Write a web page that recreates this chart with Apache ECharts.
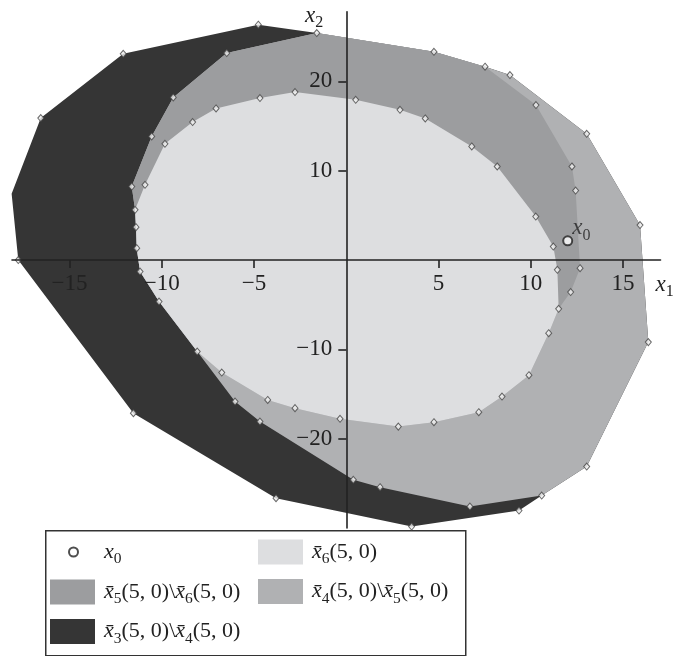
<!DOCTYPE html>
<html><head><meta charset="utf-8">
<script src="https://cdn.jsdelivr.net/npm/echarts@6/dist/echarts.min.js"></script>
<style>html,body{margin:0;padding:0;background:#fff}#c{width:674px;height:656px}</style>
</head><body><div id="c"></div>
<script>
// ---- data ----
const xTickValues = [-15, -10, -5, 5, 10, 15];
const yTickValues = [-20, -10, 10, 20];
const x0Point = [[12.0, 2.15]];
// x̄3(5,0) outer boundary
const region3 = [[-4.77,26.34],[-1.60,25.41],[4.75,23.31],[7.52,21.64],[8.87,20.71],[13.03,14.13],[15.92,3.91],[16.37,-9.19],[13.03,-23.12],[10.59,-26.37],[9.36,-28.05],[3.54,-29.84],[-3.81,-26.66],[-11.54,-17.14],[-17.78,0],[-18.14,7.41],[-16.56,15.89],[-12.09,23.09]];
// x̄4(5,0)
const region4 = [[-1.60,25.41],[4.75,23.31],[7.52,21.64],[8.87,20.71],[13.03,14.13],[15.92,3.91],[16.37,-9.19],[13.03,-23.12],[10.59,-26.37],[6.70,-27.60],[1.83,-25.43],[0.38,-24.61],[-4.68,-18.09],[-6.03,-15.85],[-8.08,-10.25],[-10.15,-4.65],[-11.18,-1.29],[-11.36,1.33],[-11.40,3.68],[-11.45,5.62],[-11.63,8.23],[-10.55,13.83],[-9.38,18.20],[-6.48,23.17]];
// x̄5(5,0)
const region5 = [[-1.60,25.41],[4.75,23.31],[7.52,21.64],[10.28,17.35],[12.23,10.47],[12.43,7.78],[12.67,-0.91],[12.16,-3.59],[11.51,-5.46],[10.97,-8.19],[9.90,-12.89],[8.44,-15.29],[7.18,-17.03],[4.75,-18.15],[2.82,-18.65],[-0.34,-17.78],[-2.78,-16.58],[-4.26,-15.66],[-6.75,-12.60],[-8.08,-10.25],[-10.15,-4.65],[-11.18,-1.29],[-11.36,1.33],[-11.40,3.68],[-11.45,5.62],[-11.63,8.23],[-10.55,13.83],[-9.38,18.20],[-6.48,23.17]];
// x̄6(5,0)
const region6 = [[0.51,17.94],[2.91,16.82],[4.28,15.85],[6.80,12.71],[8.18,10.47],[10.27,4.87],[11.22,1.51],[11.44,-1.10],[11.51,-5.46],[10.97,-8.19],[9.90,-12.89],[8.44,-15.29],[7.18,-17.03],[4.75,-18.15],[2.82,-18.65],[-0.34,-17.78],[-2.78,-16.58],[-4.26,-15.66],[-6.75,-12.60],[-8.08,-10.25],[-10.15,-4.65],[-11.18,-1.29],[-11.36,1.33],[-11.40,3.68],[-11.45,5.62],[-10.91,8.42],[-9.83,13.01],[-8.33,15.44],[-7.06,16.97],[-4.68,18.13],[-2.78,18.80]];
const xRange = [-18.12, 17.03];
const yRange = [-30, 27.8];

// ---- style / layout ----
const SERIF = '"Liberation Serif", "Times New Roman", serif';
const INK = '#222';
const GRID = {left: 12, top: 11.7, width: 648.5, height: 516.3};
function makeRich(fs, ss) {
  return {
    g: {width: 4},
    g0: {width: 21},
    i: {fontFamily: SERIF, fontStyle: 'italic', fontSize: fs, lineHeight: 30, color: INK},
    n: {fontFamily: SERIF, fontSize: fs, lineHeight: 30, color: INK},
    s: {fontFamily: SERIF, fontSize: ss, lineHeight: 16, padding: [14, 0, 0, 0], color: INK}
  };
}
const rich = makeRich(23, 16);
const legendRich = makeRich(22, 15.5);
const labelText = {
  x0: '{g0|}{i|x}{s|0}',
  x6: '{g|}{i|x\u0304}{s|6}{n|(5, 0)}',
  x56: '{g|}{i|x\u0304}{s|5}{n|(5, 0)\\}{i|x\u0304}{s|6}{n|(5, 0)}',
  x45: '{g|}{i|x\u0304}{s|4}{n|(5, 0)\\}{i|x\u0304}{s|5}{n|(5, 0)}',
  x34: '{g|}{i|x\u0304}{s|3}{n|(5, 0)\\}{i|x\u0304}{s|4}{n|(5, 0)}'
};

// vertices (union of polygon corners)
const seen = new Set();
const vertices = [];
[region3, region4, region5, region6].forEach(r => r.forEach(p => {
  const k = p[0] + ',' + p[1];
  if (!seen.has(k)) { seen.add(k); vertices.push(p); }
}));

function polySeries(name, pts, color) {
  return {
    type: 'custom', name: name, data: pts, encode: {x: 0, y: 1},
    itemStyle: {color: color}, silent: true, z: 2,
    renderItem: function (params, api) {
      if (params.dataIndex !== 0) return;
      return {
        type: 'polygon',
        shape: {points: pts.map(p => api.coord(p))},
        style: {fill: api.visual('color'), stroke: null}
      };
    }
  };
}
const fmtNum = v => v < 0 ? '\u2212' + Math.abs(v) : String(v);
// axes cross at the origin: shift each axis from the grid edge to the zero of the other axis
const xAxisOffset = -GRID.height * (0 - yRange[0]) / (yRange[1] - yRange[0]);
const yAxisOffset = -GRID.width * (0 - xRange[0]) / (xRange[1] - xRange[0]);
const axisLineStyle = {color: '#222', width: 1.6};

const chart = echarts.init(document.getElementById('c'), null, {renderer: 'canvas'});
chart.setOption({
  animation: false,
  backgroundColor: '#fff',
  grid: Object.assign({containLabel: false, outerBoundsMode: 'none'}, GRID),
  xAxis: {
    type: 'value', min: xRange[0], max: xRange[1], position: 'bottom', offset: xAxisOffset, z: 10,
    axisLine: {onZero: false, lineStyle: axisLineStyle},
    axisTick: {customValues: xTickValues, length: 8, lineStyle: axisLineStyle},
    axisLabel: {customValues: xTickValues, formatter: fmtNum, margin: 12, fontFamily: SERIF, fontSize: 23, color: INK},
    splitLine: {show: false},
    name: '{i|x}{s|1}', nameLocation: 'end', nameGap: -5,
    nameTextStyle: {align: 'left', verticalAlign: 'top', padding: [10, 0, 0, 0], rich: rich}
  },
  yAxis: {
    type: 'value', min: yRange[0], max: yRange[1], position: 'left', offset: yAxisOffset, z: 10,
    axisLine: {onZero: false, lineStyle: axisLineStyle},
    axisTick: {customValues: yTickValues, length: 8, lineStyle: axisLineStyle},
    axisLabel: {customValues: yTickValues, formatter: fmtNum, margin: 14, fontFamily: SERIF, fontSize: 23, color: INK},
    splitLine: {show: false},
    name: '{i|x}{s|2}', nameLocation: 'end', nameGap: 11,
    nameTextStyle: {align: 'right', verticalAlign: 'top', padding: [0, 23, 0, 0], rich: rich}
  },
  graphic: [{
    type: 'rect', z: 1, left: 45, top: 530,
    shape: {width: 420, height: 125},
    style: {fill: '#fff', stroke: '#333', lineWidth: 1.5}
  }],
  legend: [
    {data: [{name: 'x0', icon: 'circle'}], left: 68, top: 537, padding: 0, itemWidth: 9, itemHeight: 9,
     itemStyle: {color: '#fff', borderColor: '#222', borderWidth: 2},
     formatter: n => labelText[n], textStyle: {rich: legendRich}, selectedMode: false},
    {data: [{name: 'x56', icon: 'rect'}, {name: 'x34', icon: 'rect'}], orient: 'vertical', left: 50, top: 577, padding: 0,
     itemWidth: 45, itemHeight: 25, itemGap: 9.5, formatter: n => labelText[n], textStyle: {rich: legendRich}, selectedMode: false},
    {data: [{name: 'x6', icon: 'rect'}, {name: 'x45', icon: 'rect'}], orient: 'vertical', left: 258, top: 537, padding: 0,
     itemWidth: 45, itemHeight: 25, itemGap: 9.5, formatter: n => labelText[n], textStyle: {rich: legendRich}, selectedMode: false}
  ],
  series: [
    polySeries('x34', region3, '#353535'),
    polySeries('x45', region4, '#b0b1b3'),
    polySeries('x56', region5, '#9c9d9f'),
    polySeries('x6', region6, '#dddee0'),
    {
      type: 'scatter', name: 'vertices', data: vertices, symbol: 'diamond', symbolSize: [6, 7],
      itemStyle: {color: '#eeeeee', borderColor: '#444', borderWidth: 1}, silent: true, z: 5
    },
    {
      type: 'scatter', name: 'x0', data: x0Point, symbol: 'circle', symbolSize: 9,
      itemStyle: {color: '#fff', borderColor: '#222', borderWidth: 2}, z: 6,
      label: {show: true, position: [10, -22], align: 'left', verticalAlign: 'top', formatter: '{i|x}{s|0}', rich: rich}
    }
  ]
});
</script></body></html>
